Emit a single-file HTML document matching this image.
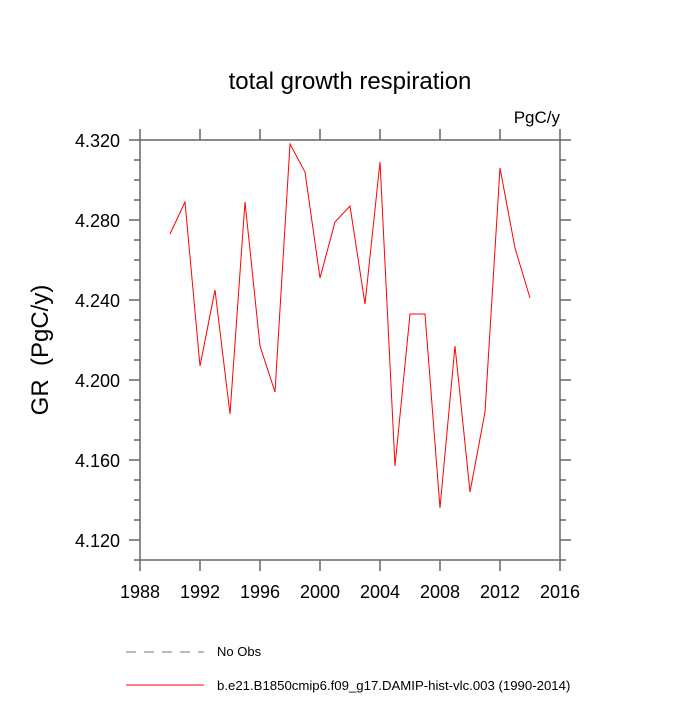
<!DOCTYPE html>
<html><head><meta charset="utf-8"><style>
body{margin:0;background:#fff}
svg text{font-family:"Liberation Sans",sans-serif}
</style></head><body>
<svg id="chart" width="700" height="700" viewBox="0 0 700 700" xmlns="http://www.w3.org/2000/svg">
<text x="350" y="89" font-size="24" text-anchor="middle">total growth respiration</text>
<text x="560" y="123" font-size="17" text-anchor="end">PgC/y</text>
<text transform="translate(48,350) rotate(-90)" font-size="24" text-anchor="middle">GR&#160;&#160;(PgC/y)</text>
<g id="axes"></g>
<path id="series" fill="none" stroke="#ff0000" stroke-width="1"/>
<g>
<line x1="126" y1="652" x2="204" y2="652" stroke="#777" stroke-dasharray="10,8"/>
<text x="217" y="656" font-size="13">No Obs</text>
<line x1="126" y1="685" x2="204" y2="685" stroke="#ff0000"/>
<text x="217" y="690" font-size="13.2">b.e21.B1850cmip6.f09_g17.DAMIP-hist-vlc.003 (1990-2014)</text>
</g>
</svg>
<script>
const years=[1990,1991,1992,1993,1994,1995,1996,1997,1998,1999,2000,2001,2002,2003,2004,2005,2006,2007,2008,2009,2010,2011,2012,2013,2014];
const values=[4.273,4.289,4.207,4.245,4.183,4.289,4.217,4.194,4.318,4.304,4.251,4.279,4.287,4.238,4.309,4.157,4.233,4.233,4.136,4.217,4.144,4.184,4.306,4.266,4.241];
const xTicks=[1988,1992,1996,2000,2004,2008,2012,2016];
const yTicks=[4.120,4.160,4.200,4.240,4.280,4.320];
const L=140,R=560,T=140,B=560;
const xs=v=>L+(v-1988)*(R-L)/28;
const ys=v=>T+(4.320-v)*(B-T)/0.21;
const ns="http://www.w3.org/2000/svg";
const g=document.getElementById('axes');
function mk(t,a){const e=document.createElementNS(ns,t);for(const k in a)e.setAttribute(k,a[k]);g.appendChild(e);return e;}
const frame=mk('rect',{x:L,y:T,width:R-L,height:B-T,fill:'none',stroke:'#666','stroke-width':1.5});


xTicks.forEach(v=>{
  const x=xs(v);
  const t1=mk('line',{x1:x,y1:B,x2:x,y2:B+11,stroke:'#666','stroke-width':1.5});
  
  
  const t2=mk('line',{x1:x,y1:T,x2:x,y2:T-11,stroke:'#666','stroke-width':1.5});
  
  
  const t=mk('text',{x:x,y:B+38,'font-size':18,'text-anchor':'middle'});t.textContent=v;
  
  
});
for(let i=0;i<=21;i++){
  const v=4.320-i*0.01,y=ys(v),maj=(i%4===0),len=maj?11:6;
  const a=mk('line',{x1:L,y1:y,x2:L-len,y2:y,stroke:'#666','stroke-width':1.5});
  
  
  const b=mk('line',{x1:R,y1:y,x2:R+len,y2:y,stroke:'#666','stroke-width':1.5});
  
  
}
yTicks.forEach(v=>{const t=mk('text',{x:L-20,y:ys(v)+7,'font-size':18,'text-anchor':'end'});t.textContent=v.toFixed(3);
  
  });
document.getElementById('series').setAttribute('d',years.map((y,i)=>(i?'L':'M')+xs(y)+','+ys(values[i])).join(' '));
</script>
</body></html>
